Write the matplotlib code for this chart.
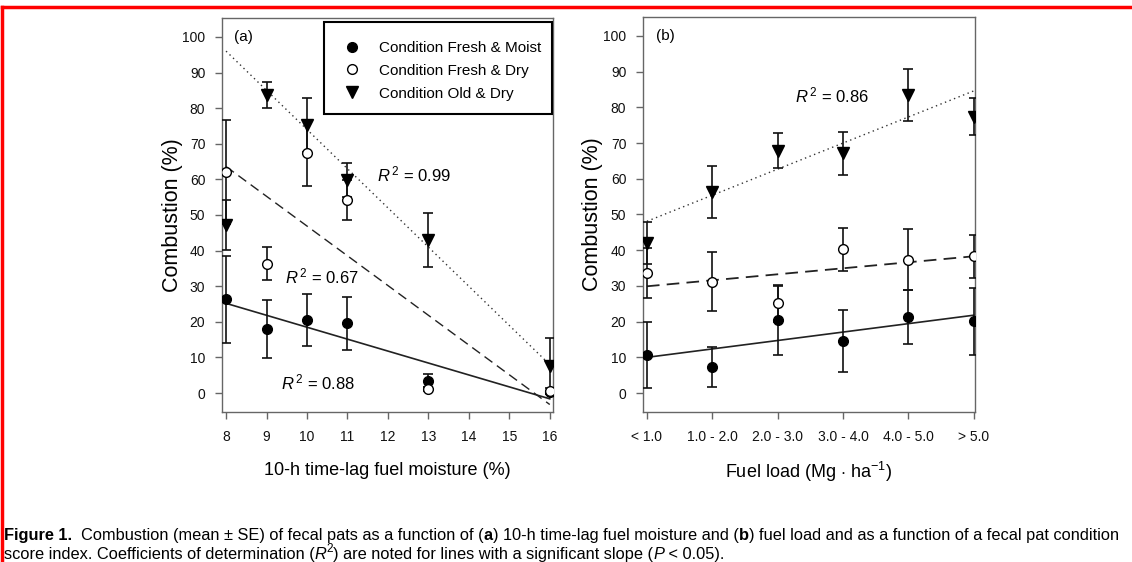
import matplotlib
matplotlib.use('Agg')
import matplotlib.pyplot as plt
from matplotlib.lines import Line2D
from matplotlib.patches import Rectangle

plt.rcParams['font.family'] = ['Liberation Sans', 'DejaVu Sans']
plt.rcParams['mathtext.fontset'] = 'custom'
plt.rcParams['mathtext.rm'] = 'Liberation Sans'
plt.rcParams['mathtext.it'] = 'Liberation Sans:italic'

# (a) fuel moisture
moist_x = [8, 9, 10, 11, 13, 16]
moist_a = [26.3, 17.9, 20.5, 19.6, 3.5, 0.2]
moist_a_se = [12.2, 8.1, 7.3, 7.5, 1.8, 0.5]
dry_a = [62.0, 36.3, 67.3, 54.1, 1.1, 0.7]
dry_a_se = [14.6, 4.6, 9.2, 5.6, 0.6, 0.6]
old_a = [47.1, 83.7, 75.3, 59.8, 42.9, 7.6]
old_a_se = [7.0, 3.6, 7.5, 4.7, 7.6, 7.8]
fit_a_x = [8, 16]
fit_a_moist = [25.2, -1.6]
fit_a_dry = [63.6, -3.2]
fit_a_old = [96.0, 8.0]

# (b) fuel load
load_labels = ['< 1.0', '1.0 - 2.0', '2.0 - 3.0', '3.0 - 4.0', '4.0 - 5.0', '> 5.0']
moist_b = [10.7, 7.3, 20.4, 14.7, 21.3, 20.1]
moist_b_se = [9.3, 5.5, 9.7, 8.7, 7.5, 9.3]
dry_b = [33.6, 31.2, 25.2, 40.2, 37.4, 38.3]
dry_b_se = [7.0, 8.3, 5.2, 6.0, 8.5, 6.0]
old_b = [42.1, 56.3, 67.9, 67.1, 83.4, 77.4]
old_b_se = [5.9, 7.4, 5.0, 6.0, 7.3, 5.2]
fit_b_x = [0, 5]
fit_b_moist = [10.0, 21.8]
fit_b_dry = [29.9, 38.3]
fit_b_old = [48.1, 84.6]

fig = plt.figure(figsize=(11.32, 5.62), dpi=100)
ax_a = fig.add_axes([222 / 1132, 1 - 412 / 562, 331 / 1132, 394 / 562])
ax_b = fig.add_axes([643 / 1132, 1 - 412 / 562, 332 / 1132, 395 / 562])

frame_col = '#666666'


def style_axis(ax):
    for sp in ax.spines.values():
        sp.set_color(frame_col)
        sp.set_linewidth(1.0)
    ax.tick_params(direction='out', length=5, width=1, color=frame_col,
                   labelsize=10, labelcolor='#111111')
    ax.tick_params(axis='y', pad=7)
    ax.tick_params(axis='x', pad=8)
    ax.set_ylim(-5.3, 105.3)
    ax.set_yticks(range(0, 101, 10))
    ax.set_ylabel('Combustion (%)', fontsize=15.5)


def draw_series(ax, x, y, se, marker, face, ms):
    ax.errorbar(x, y, yerr=se, fmt='none', ecolor='#111111', elinewidth=1.2,
                capsize=3.6, capthick=1.2, zorder=3)
    ax.plot(x, y, linestyle='none', marker=marker, markersize=ms,
            markerfacecolor=face, markeredgecolor='black', markeredgewidth=1.0,
            zorder=4)


# panel (a)
style_axis(ax_a)
ax_a.set_xlim(7.9, 16.08)
ax_a.set_xticks(range(8, 17))
ax_a.plot(fit_a_x, fit_a_moist, color='#222222', lw=1.2, zorder=2)
ax_a.plot(fit_a_x, fit_a_dry, color='#222222', lw=1.0, dashes=(7, 4), zorder=2)
ax_a.plot(fit_a_x, fit_a_old, color='#333333', lw=1.0, dashes=(1, 2.5), zorder=2)
draw_series(ax_a, moist_x, moist_a, moist_a_se, 'o', 'black', 7)
draw_series(ax_a, moist_x, dry_a, dry_a_se, 'o', 'white', 7)
draw_series(ax_a, moist_x, old_a, old_a_se, 'v', 'black', 8)
ax_a.text(8.2, 100, '(a)', fontsize=11, ha='left', va='center')
ax_a.text(11.72, 61.3, r'$R^{\,2}$ = 0.99', fontsize=12, va='center')
ax_a.text(9.46, 32.8, r'$R^{\,2}$ = 0.67', fontsize=12, va='center')
ax_a.text(9.37, 3.1, r'$R^{\,2}$ = 0.88', fontsize=12, va='center')
ax_a.set_xlabel('10-h time-lag fuel moisture (%)', fontsize=13)
ax_a.xaxis.set_label_coords(0.5, -0.128)
ax_a.yaxis.set_label_coords(-0.118, 0.5)

# legend: entries without frame, box drawn separately
handles = [
    Line2D([], [], linestyle='none', marker='o', markersize=7, markerfacecolor='black', markeredgecolor='black'),
    Line2D([], [], linestyle='none', marker='o', markersize=7, markerfacecolor='white', markeredgecolor='black'),
    Line2D([], [], linestyle='none', marker='v', markersize=8, markerfacecolor='black', markeredgecolor='black'),
]
ax_a.legend(handles, ['Condition Fresh & Moist', 'Condition Fresh & Dry', 'Condition Old & Dry'],
            loc='upper left', bbox_to_anchor=(0.369, 0.942), borderaxespad=0, borderpad=0,
            fontsize=11, frameon=False, handlelength=1.0, handletextpad=1.3,
            labelspacing=0.58)
ax_a.add_patch(Rectangle((0.308, 0.756), 0.689, 0.234, transform=ax_a.transAxes,
                         fill=False, edgecolor='black', linewidth=1.5, zorder=6))

# panel (b)
style_axis(ax_b)
xb = list(range(len(load_labels)))
ax_b.set_xlim(-0.06, 5.02)
ax_b.set_xticks(xb)
ax_b.set_xticklabels(load_labels)
ax_b.plot(fit_b_x, fit_b_moist, color='#222222', lw=1.2, zorder=2)
ax_b.plot(fit_b_x, fit_b_dry, color='#222222', lw=1.3, dashes=(7, 4), zorder=2)
ax_b.plot(fit_b_x, fit_b_old, color='#333333', lw=1.0, dashes=(1, 2.5), zorder=2)
draw_series(ax_b, xb, moist_b, moist_b_se, 'o', 'black', 7)
draw_series(ax_b, xb, dry_b, dry_b_se, 'o', 'white', 7)
draw_series(ax_b, xb, old_b, old_b_se, 'v', 'black', 8)
ax_b.text(0.14, 100, '(b)', fontsize=11, ha='left', va='center')
ax_b.text(2.26, 83.4, r'$R^{\,2}$ = 0.86', fontsize=12, va='center')
ax_b.set_xlabel(r'Fuel load (Mg $\cdot$ ha$^{-1}$)', fontsize=13)
ax_b.xaxis.set_label_coords(0.5, -0.122)
ax_b.yaxis.set_label_coords(-0.12, 0.5)

# red frame
fig.add_artist(Line2D([2 / 1132, 1.0], [1 - 7 / 562, 1 - 7 / 562], color='red', lw=2.5,
                      transform=fig.transFigure))
fig.add_artist(Line2D([2 / 1132, 2 / 1132], [0, 1 - 7 / 562], color='red', lw=2.5,
                      transform=fig.transFigure))

# caption
cap_font = ['Liberation Sans', 'DejaVu Sans']
cap_size = 11.8


def caption_line(pieces, x, y):
    s, kw = pieces[0]
    prev = fig.text(x, y, s, fontsize=cap_size, family=cap_font, va='bottom', **kw)
    for s, kw in pieces[1:]:
        kw = dict(kw)
        dy = kw.pop('dy', 0)
        size = kw.pop('size', cap_size)
        prev = ax_a.annotate(s, xy=(1, 0), xycoords=prev, xytext=(0, dy),
                             textcoords='offset points', va='bottom',
                             fontsize=size, family=cap_font, annotation_clip=False, **kw)


caption_line([
    ('Figure 1.', {'weight': 'bold'}),
    ('  Combustion (mean \u00b1 SE) of fecal pats as a function of (', {}),
    ('a', {'weight': 'bold'}),
    (') 10-h time-lag fuel moisture and (', {}),
    ('b', {'weight': 'bold'}),
    (') fuel load and as a function of a fecal pat condition', {}),
], 4 / 1132, 1 - 543 / 562)
caption_line([
    ('score index. Coefficients of determination (', {}),
    ('R', {'style': 'italic'}),
    ('2', {'size': 8.5, 'dy': 5}),
    (') are noted for lines with a significant slope (', {'dy': -5}),
    ('P', {'style': 'italic'}),
    (' < 0.05).', {}),
], 4 / 1132, 1 - 562 / 562)

fig.savefig('out.png', dpi=100)
